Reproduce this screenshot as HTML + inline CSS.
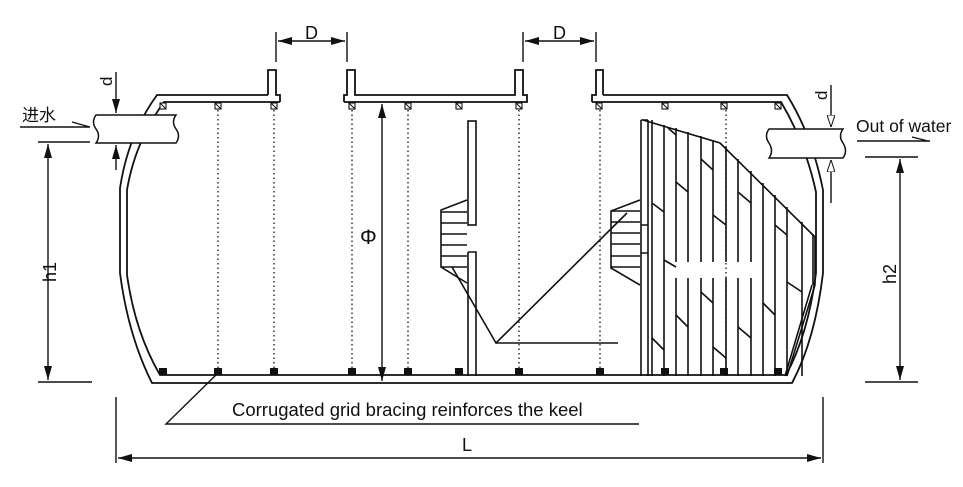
<!DOCTYPE html>
<html><head><meta charset="utf-8"><style>
html,body{margin:0;padding:0;background:#fff;}
svg{display:block;}
text{font-family:"Liberation Sans","Noto Sans CJK SC",sans-serif;fill:#111;}
</style></head><body>
<svg width="963" height="487" viewBox="0 0 963 487" xmlns="http://www.w3.org/2000/svg">
<defs>
<marker id="a" markerWidth="14" markerHeight="8" refX="14" refY="4" orient="auto" markerUnits="userSpaceOnUse"><path d="M0,0 L14,4 L0,8 z" fill="#111"/></marker>
<marker id="b" markerWidth="14" markerHeight="8" refX="0" refY="4" orient="auto" markerUnits="userSpaceOnUse"><path d="M14,0 L0,4 L14,8 z" fill="#111"/></marker>
<marker id="o" markerWidth="12" markerHeight="8" refX="12" refY="4" orient="auto" markerUnits="userSpaceOnUse"><path d="M0,0 L12,4 L0,8 z" fill="#fff" stroke="#111" stroke-width="1"/></marker>
</defs>
<g fill="none" stroke="#111" stroke-width="1.8">
<path d="M268,95 L157,95 Q128,135 120,188 L120,273 Q128,335 152,383 L792,383 Q815,340 823,273 L823,190 Q812,135 787,95 L603,95"/>
<path d="M280,102 L164,102 Q135,142 127,190 L127,275 Q135,332 160,375 L786,375 Q808,335 816,273 L816,192 Q805,142 781,102 L592,102"/>
<path d="M268,95 L268,70 L276,70 L276,95 L280,95 L280,102"/>
<path d="M344,102 L344,95 L347,95 L347,70 L355,70 L355,95 L515,95 L515,70 L523,70 L523,95 L527,95 L527,102 L344,102"/>
<path d="M592,102 L592,95 L596,95 L596,70 L603,70 L603,95"/>
</g>
<g fill="#fff" stroke="#111" stroke-width="1.1">
<rect x="160" y="103" width="6" height="6"/><rect x="215" y="103" width="6" height="6"/><rect x="271" y="103" width="6" height="6"/><rect x="349" y="103" width="6" height="6"/><rect x="405" y="103" width="6" height="6"/><rect x="456" y="103" width="6" height="6"/><rect x="516" y="103" width="6" height="6"/><rect x="596" y="103" width="6" height="6"/><rect x="662" y="103" width="6" height="6"/><rect x="721" y="103" width="6" height="6"/><rect x="775" y="103" width="6" height="6"/>
</g>
<g stroke="#111" stroke-width="1">
<path d="M160,103l6,6M215,103l6,6M271,103l6,6M349,103l6,6M405,103l6,6M456,103l6,6M516,103l6,6M596,103l6,6M662,103l6,6M721,103l6,6M775,103l6,6"/>
</g>
<g fill="#111">
<rect x="159" y="368" width="8" height="7"/><rect x="214" y="368" width="8" height="7"/><rect x="270" y="368" width="8" height="7"/><rect x="348" y="368" width="8" height="7"/><rect x="404" y="368" width="8" height="7"/><rect x="455" y="368" width="8" height="7"/><rect x="515" y="368" width="8" height="7"/><rect x="596" y="368" width="8" height="7"/><rect x="661" y="368" width="8" height="7"/><rect x="720" y="368" width="8" height="7"/><rect x="774" y="368" width="8" height="7"/>
</g>
<g stroke="#111" stroke-width="1.3" stroke-dasharray="1.5,3">
<path d="M218,110V368M274,110V368M352,110V368M408,110V368M519,110V368M600,110V368M726,110V368"/>
</g>
<g fill="none" stroke="#111" stroke-width="1.6">
<rect x="468" y="121" width="8" height="104" fill="#fff"/>
<path d="M468,252 H476 V376 M468,252 V376"/>
<path d="M467,200 L441,210 V267 L467,283 M441,212H467M441,223H467M441,234H467M441,245H467M441,256H467M441,267H467"/>
<path d="M452,267 L496,343 L627,213 M496,343 H618"/>
<path d="M641,120 V376 M648,120 V376 M652,120 V376 M641,225 H648 M641,253 H648 M641,120 H648"/>
<path d="M640,200 L611,211 V268 L640,285 M611,211H640M611,222H640M611,233H640M611,244H640M611,256H640M611,267H640"/>
<path d="M643,120 L720,143 L815,237"/>
<path d="M815,237 V285 L787,376 M812,285 L785,376"/>
<path d="M664,125V376 M763,183V376 M775,195V376 M787,207V376 M802,222V376 M813,234V285"/>
<path d="M676,128V262 M676,278V376 M688,132V262 M688,278V376 M701,136V262 M701,278V376 M713,140V262 M713,278V376 M726,147V262 M726,278V376 M738,159V262 M738,278V376 M751,171V262 M751,278V376"/>
<path d="M668,128l8,7 M676,182l12,10 M652,203l12,9 M701,159l12,11 M713,215l13,10 M738,192l13,11 M775,225l12,10 M664,260l12,7 M787,282l15,10 M701,292l12,11 M763,303l12,12 M676,315l12,12 M738,327l13,11 M652,338l12,12 M713,347l13,11"/>
</g>
<g fill="#fff" stroke="#111" stroke-width="1.5">
<path d="M96,115 H176 Q171,122 176,129 Q181,136 176,143 H96 Q101,136 96,129 Q91,122 96,115 Z"/>
<path d="M769,129 H843 Q838,136 843,143 Q848,151 843,158 H769 Q774,151 769,143 Q764,136 769,129 Z"/>
</g>
<g fill="none" stroke="#111" stroke-width="1.4">
<path d="M276,32V62 M347,32V62 M523,32V62 M596,32V62"/>
<path d="M278,41H345" marker-start="url(#b)" marker-end="url(#a)"/>
<path d="M525,41H594" marker-start="url(#b)" marker-end="url(#a)"/>
<path d="M382,104V381" marker-start="url(#b)" marker-end="url(#a)"/>
<path d="M38,142H90 M38,382H92"/>
<path d="M48,144V380" marker-start="url(#b)" marker-end="url(#a)"/>
<path d="M20,127H90 M72,122L90,127"/>
<path d="M116,72V113" marker-end="url(#a)"/>
<path d="M116,170V145" marker-end="url(#a)"/>
<path d="M831,85V127" marker-end="url(#o)"/>
<path d="M831,203V160" marker-end="url(#o)"/>
<path d="M857,141H930 M912,137L928,141"/>
<path d="M865,157H918 M865,382H918"/>
<path d="M900,159V380" marker-start="url(#b)" marker-end="url(#a)"/>
<path d="M116,397V463 M823,397V463"/>
<path d="M118,458H821" marker-start="url(#b)" marker-end="url(#a)"/>
<path d="M218,373 L166,424 H639"/>
</g>
<text x="305" y="39" font-size="18">D</text>
<text x="553" y="39" font-size="18">D</text>
<text x="360" y="244" font-size="21">Φ</text>
<text x="22" y="121" font-size="17">进水</text>
<text x="856" y="132" font-size="17.5">Out of water</text>
<text x="232" y="416" font-size="18.5">Corrugated grid bracing reinforces the keel</text>
<text x="462" y="451" font-size="18">L</text>
<text transform="translate(56,282) rotate(-90)" font-size="18">h1</text>
<text transform="translate(896,284) rotate(-90)" font-size="18">h2</text>
<text transform="translate(112,86) rotate(-90)" font-size="17">d</text>
<text transform="translate(827,100) rotate(-90)" font-size="17">d</text>
</svg>
</body></html>
